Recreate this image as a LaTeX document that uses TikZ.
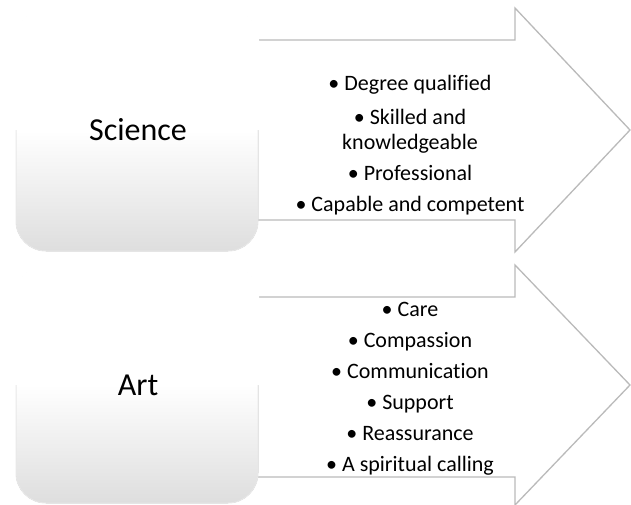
\documentclass[tikz,border=0pt]{standalone}
\usepackage{fontspec}
\setmainfont[Ligatures=NoCommon]{Carlito}
\usepackage{tikz}
\usetikzlibrary{calc}

\begin{document}
\begin{tikzpicture}[x=1pt, y=-1pt,
		sidebox/.style={rounded corners=30pt, top color=white, bottom color=black!13, middle color=white},
		boxrim/.style={draw=black!9, line width=1pt, rounded corners=30pt},
		boxtop/.style={draw=white, line width=2pt, rounded corners=30pt},
		bigarrow/.style={draw=black!27, fill=white, line width=1.3pt, line join=miter},
		boxtext/.style={font=\fontsize{32}{36}\selectfont, text=black},
		listtext/.style={font=\fontsize{22}{25}\selectfont, align=center, text=black, inner sep=0pt}]
			%%%%% START %%%%%
			
			\useasboundingbox (0, 0) rectangle (631, 504);
			
			\draw[bigarrow] (240, 40) -- (515, 40) -- (515, 8) -- (630, 130) -- (515, 252) -- (515, 220) -- (240, 220) -- cycle;
			\draw[bigarrow] (240, 297) -- (515, 297) -- (515, 265) -- (630, 385) -- (515, 505) -- (515, 477) -- (240, 477) -- cycle;
			
			% rounded boxes, white on top and grey below
			\fill[sidebox] (16, 10) rectangle (258, 251);
			\draw[boxtop] (16, 130) -- (16, 10) -- (258, 10) -- (258, 130);
			\draw[boxrim] (16, 130) -- (16, 251) -- (258, 251) -- (258, 130);
			\fill[sidebox] (16, 266) rectangle (258, 503);
			\draw[boxtop] (16, 385) -- (16, 266) -- (258, 266) -- (258, 385);
			\draw[boxrim] (16, 385) -- (16, 503) -- (258, 503) -- (258, 385);
			
			\node[boxtext] (science) at (138, 130) {Science};
			\node[boxtext] (art) at (138, 385) {Art};
			
			\node[listtext] (sciencelist) at (410, 145) {\textbullet{} Degree qualified\\[9pt]
				\textbullet{} Skilled and\\knowledgeable\\[6pt]
				\textbullet{} Professional\\[6pt]
				\textbullet{} Capable and competent};
			\node[listtext] (artlist) at (410, 389) {\textbullet{} Care\\[6pt]
				\textbullet{} Compassion\\[6pt]
				\textbullet{} Communication\\[6pt]
				\textbullet{} Support\\[6pt]
				\textbullet{} Reassurance\\[6pt]
				\textbullet{} A spiritual calling};
			
			%%%%% END %%%%%
		\end{tikzpicture}
\end{document}
